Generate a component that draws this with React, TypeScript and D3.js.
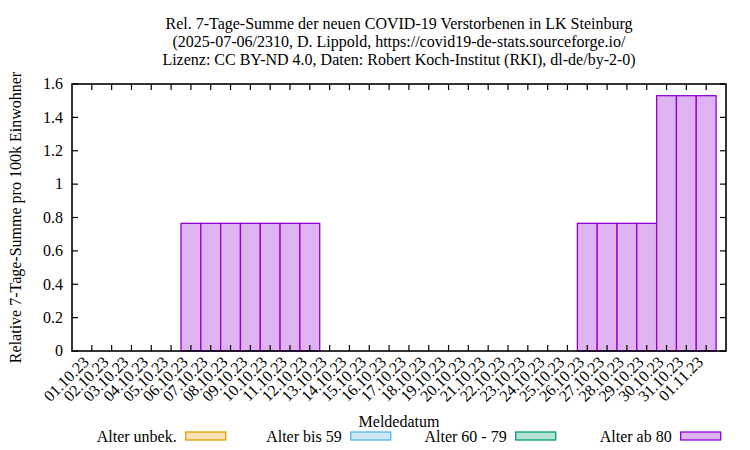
import React from 'react';
import * as d3 from 'd3';

const titleLines = [
  'Rel. 7-Tage-Summe der neuen COVID-19 Verstorbenen in LK Steinburg',
  '(2025-07-06/2310, D. Lippold, https://covid19-de-stats.sourceforge.io/',
  'Lizenz: CC BY-ND 4.0, Daten: Robert Koch-Institut (RKI), dl-de/by-2-0)',
];

const dates = [
  '01.10.23', '02.10.23', '03.10.23', '04.10.23', '05.10.23', '06.10.23', '07.10.23', '08.10.23',
  '09.10.23', '10.10.23', '11.10.23', '12.10.23', '13.10.23', '14.10.23', '15.10.23', '16.10.23',
  '17.10.23', '18.10.23', '19.10.23', '20.10.23', '21.10.23', '22.10.23', '23.10.23', '24.10.23',
  '25.10.23', '26.10.23', '27.10.23', '28.10.23', '29.10.23', '30.10.23', '31.10.23', '01.11.23',
];

const alterUnbek = [0, 0, 0, 0, 0, 0, 0, 0, 0, 0, 0, 0, 0, 0, 0, 0, 0, 0, 0, 0, 0, 0, 0, 0, 0, 0, 0, 0, 0, 0, 0, 0];
const alterBis59 = [0, 0, 0, 0, 0, 0, 0, 0, 0, 0, 0, 0, 0, 0, 0, 0, 0, 0, 0, 0, 0, 0, 0, 0, 0, 0, 0, 0, 0, 0, 0, 0];
const alter60bis79 = [0, 0, 0, 0, 0, 0, 0, 0, 0, 0, 0, 0, 0, 0, 0, 0, 0, 0, 0, 0, 0, 0, 0, 0, 0, 0, 0, 0, 0, 0, 0, 0];
const alterAb80 = [0, 0, 0, 0, 0, 0.765, 0.765, 0.765, 0.765, 0.765, 0.765, 0.765, 0, 0, 0, 0,
  0, 0, 0, 0, 0, 0, 0, 0, 0, 0.765, 0.765, 0.765, 0.765, 1.53, 1.53, 1.53];

const seriesNames = ['Alter unbek.', 'Alter bis 59', 'Alter 60 - 79', 'Alter ab 80'];
const seriesStroke = ['#e69f00', '#56b4e9', '#009e73', '#9400d3'];
const yTicks = [0, 0.2, 0.4, 0.6, 0.8, 1, 1.2, 1.4, 1.6];

const FONT = '"Liberation Serif", "DejaVu Serif", serif';

export default function App() {
  const W = 750, H = 450;
  const L = 72, R = 726, T = 84, B = 351;
  const x = d3.scaleLinear().domain([-1, dates.length]).range([L, R]);
  const y = d3.scaleLinear().domain([0, 1.6]).range([B, T]);
  const step = x(1) - x(0);

  const table = dates.map((d, i) => ({
    d, i,
    s0: alterUnbek[i], s1: alterBis59[i], s2: alter60bis79[i], s3: alterAb80[i],
  }));
  const stack = d3.stack<any>().keys(['s0', 's1', 's2', 's3'])(table);
  const fillOf = (c: string) => {
    const rgb = d3.rgb(c);
    const a = 0.3;
    return d3.rgb(255 - a * (255 - rgb.r), 255 - a * (255 - rgb.g), 255 - a * (255 - rgb.b)).formatHex();
  };

  const tick = 6;

  return (
    <svg width={W} height={H} style={{ position: 'absolute', left: 0, top: 0, background: '#fff' }}
      fontFamily={FONT} fontSize={16}>
      <rect x={0} y={0} width={W} height={H} fill="#fff" />
      {titleLines.map((t, k) => (
        <text key={k} x={(L + R) / 2} y={29 + k * 18} textAnchor="middle" fill="#000">{t}</text>
      ))}
      {/* bars */}
      {stack.map((layer, si) => (
        <g key={si}>
          {layer.map((seg: any, i: number) => {
            const h = y(seg[0]) - y(seg[1]);
            if (h <= 0) return null;
            return (
              <rect key={i} x={x(i) - step / 2} y={y(seg[1])} width={step} height={h}
                fill={fillOf(seriesStroke[si])} stroke={seriesStroke[si]} strokeWidth={1.3} />
            );
          })}
        </g>
      ))}
      {/* ticks */}
      {yTicks.map((v, k) => (
        <g key={k}>
          <line x1={L} x2={L + tick} y1={y(v)} y2={y(v)} stroke="#000" strokeWidth={1.2} />
          <line x1={R} x2={R - tick} y1={y(v)} y2={y(v)} stroke="#000" strokeWidth={1.2} />
          <text x={L - 9} y={y(v)} dy="0.33em" textAnchor="end">{d3.format('~g')(v)}</text>
        </g>
      ))}
      {dates.map((d, i) => (
        <g key={i}>
          <line x1={x(i)} x2={x(i)} y1={B} y2={B - tick} stroke="#000" strokeWidth={1.2} />
          <line x1={x(i)} x2={x(i)} y1={T} y2={T + tick} stroke="#000" strokeWidth={1.2} />
          <text transform={`translate(${x(i) - 2},${B + 12}) rotate(-45)`} textAnchor="end">{d}</text>
        </g>
      ))}
      <rect x={L} y={T} width={R - L} height={B - T} fill="none" stroke="#000" strokeWidth={1.6} />
      <text transform={`translate(21,${(T + B) / 2}) rotate(-90)`} textAnchor="middle">
        Relative 7-Tage-Summe pro 100k Einwohner
      </text>
      <text x={(L + R) / 2} y={427} textAnchor="middle">Meldedatum</text>
      {seriesNames.map((n, k) => {
        const bx = 185.7 + k * 165;
        return (
          <g key={k}>
            <text x={bx - 9} y={442} textAnchor="end">{n}</text>
            <rect x={bx} y={432} width={40} height={8} fill={fillOf(seriesStroke[k])}
              stroke={seriesStroke[k]} strokeWidth={1.3} />
          </g>
        );
      })}
    </svg>
  );
}
